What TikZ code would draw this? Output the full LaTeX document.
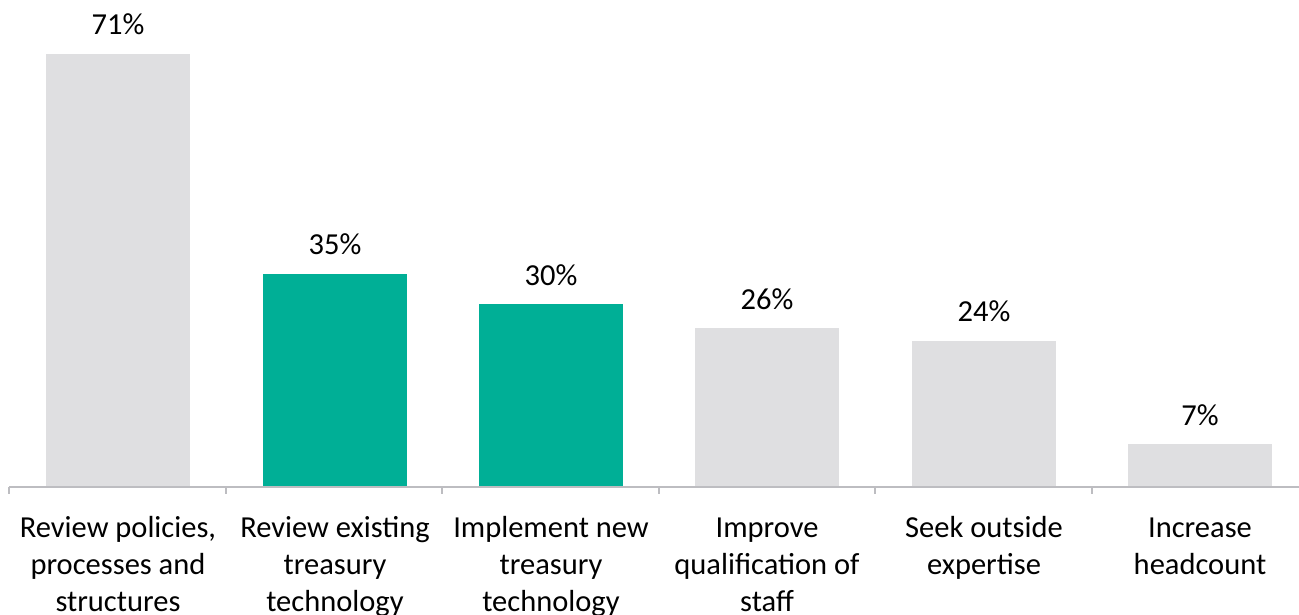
\documentclass[tikz,border=0pt]{standalone}
\usepackage{fontspec}
\setmainfont{Carlito}
\definecolor{bargray}{HTML}{DFDFE1}
\definecolor{barteal}{HTML}{00AF96}
\definecolor{axisgray}{HTML}{BDBDC1}

\begin{document}
\begin{tikzpicture}[x=1pt,y=-1pt,
  lbl/.style={anchor=base, align=center, inner sep=0pt, font=\fontsize{30.5}{37}\selectfont}]
\useasboundingbox (0,0) rectangle (1299,614);
\foreach \c/\v/\col/\n/\lab [count=\i] in {
  118/71/bargray/3/{Review policies,\\processes and\\structures},
  335/35/barteal/3/{Review existing\\treasury\\technology},
  551/30/barteal/3/{Implement new\\treasury\\technology},
  767/26/bargray/3/{Improve\\qualification of\\staff},
  984/24/bargray/2/{Seek outside\\expertise},
  1200/7/bargray/2/{Increase\\headcount}}
{
 \fill[\col] (\c-72,487) rectangle (\c+72,487-\v*6.1);
 \node[lbl] (pct\i) at (\c,487-\v*6.1-19) {\v\%};
 \node[lbl] (cat\i) at (\c,537+\n*37-37) {\lab};
}
\draw[axisgray, line width=2pt] (9,487) -- (1299,487);
\foreach \x in {9,226,442,659,875,1092}
 \draw[axisgray, line width=2pt] (\x,487) --++(0,7);
\end{tikzpicture}
\end{document}
